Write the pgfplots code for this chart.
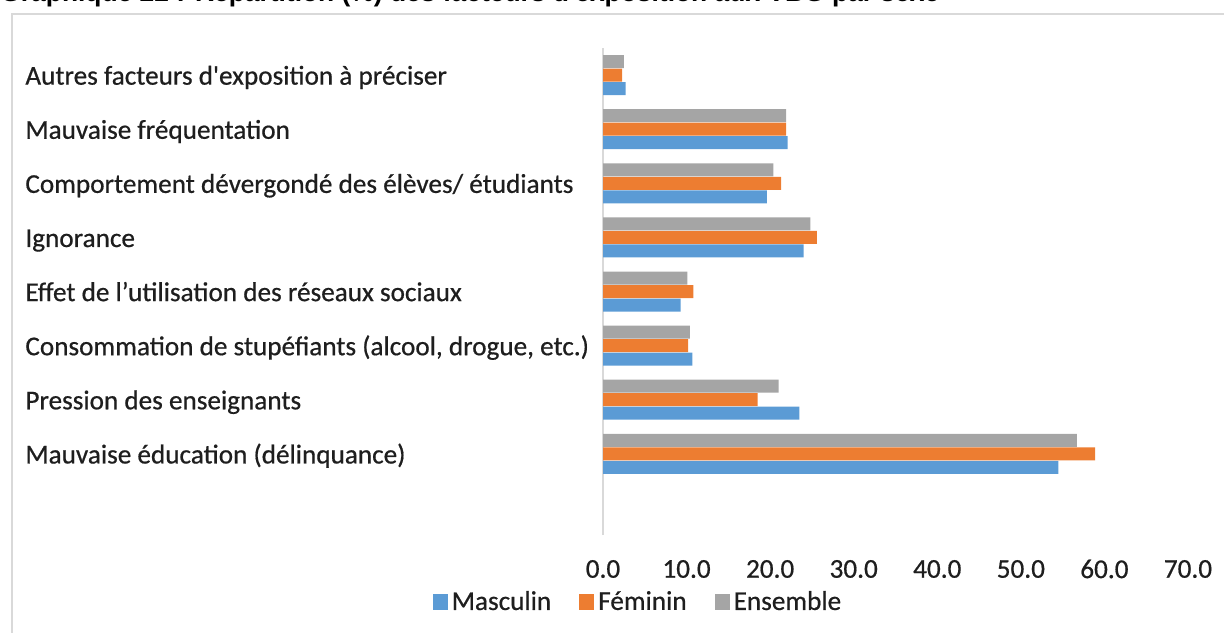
\documentclass[border=0pt]{standalone}
\usepackage{fontspec}
\setmainfont{Carlito}[Ligatures=TeXOff, FakeBold=0.6]
\newfontfamily\titlefont{Liberation Sans}
\usepackage{pgfplots}
\usepackage{pgfplotstable}
\pgfplotsset{compat=1.18}
\definecolor{masc}{RGB}{91,155,213}
\definecolor{fem}{RGB}{237,125,49}
\definecolor{ens}{RGB}{165,165,165}
\definecolor{lbl}{RGB}{30,30,30}
\definecolor{cadre}{RGB}{217,217,217}

% y: 1 = bottom category, 8 = top; 0 is the empty slot Excel left
\pgfplotstableread{
y masc fem  ens
1 54.5 58.9 56.7
2 23.5 18.5 21.0
3 10.7 10.2 10.4
4  9.3 10.8 10.1
5 24.0 25.6 24.8
6 19.6 21.3 20.4
7 22.1 21.9 21.9
8  2.7  2.3  2.5
}\facteurs

\begin{document}
\begin{tikzpicture}
\path[use as bounding box] (0,0) rectangle (612pt,316pt);
\clip (0,0) rectangle (612pt,316pt);
\draw[cadre, line width=0.8pt] (6pt,-5pt) -- (6pt,309pt) -- (620pt,309pt);
\node[anchor=base west, inner sep=0, text=black,
  font=\titlefont\bfseries\fontsize{13.2}{15}\selectfont] at (0pt,315pt)
  {Graphique 22 : Répartition (\%) des facteurs d'exposition aux VBG par sexe};
\begin{axis}[
  at={(301.5pt,48.5pt)}, anchor=south west,
  scale only axis, width=292.5pt, height=243.5pt,
  xbar, bar width=6.5pt,
  xmin=0, xmax=70, ymin=-0.5, ymax=8.5,
  enlargelimits=false,
  axis x line*=bottom, axis y line*=left,
  x axis line style={draw=none},
  y axis line style={draw=cadre, line width=1pt},
  major tick length=0pt,
  xtick={0,10,...,70},
  ytick={1,...,8},
  yticklabels={
    Mauvaise éducation (délinquance),
    Pression des enseignants,
    {Consommation de stupéfiants (alcool, drogue, etc.)},
    Effet de l’utilisation des réseaux sociaux,
    Ignorance,
    Comportement dévergondé des élèves/ étudiants,
    Mauvaise fréquentation,
    Autres facteurs d'exposition à préciser},
  tick label style={font=\fontsize{13.6}{16}\selectfont, text=lbl},
  yticklabel style={anchor=base west, inner sep=0pt, xshift=-289pt, yshift=-4.8pt},
  xticklabel style={anchor=center, yshift=-17pt},
  /pgf/number format/.cd, fixed, fixed zerofill, precision=1, assume math mode=true,
  /pgfplots/.cd,
  legend style={at={(0.0615,-0.1376)}, anchor=center, draw=none, fill=none,
    legend columns=-1, font=\fontsize{13.6}{16}\selectfont, text=lbl,
    /tikz/every even column/.append style={column sep=12pt}},
  legend image code/.code={\fill[#1] (0pt,-4pt) rectangle (7.5pt,4pt);},
]
\addplot[fill=masc, draw=none, bar shift=-6.75pt] table[x=masc, y=y] {\facteurs};
\addplot[fill=fem, draw=none, bar shift=0pt] table[x=fem, y=y] {\facteurs};
\addplot[fill=ens, draw=none, bar shift=6.75pt] table[x=ens, y=y] {\facteurs};
\legend{Masculin, Féminin, Ensemble}
\end{axis}
\end{tikzpicture}
\end{document}
